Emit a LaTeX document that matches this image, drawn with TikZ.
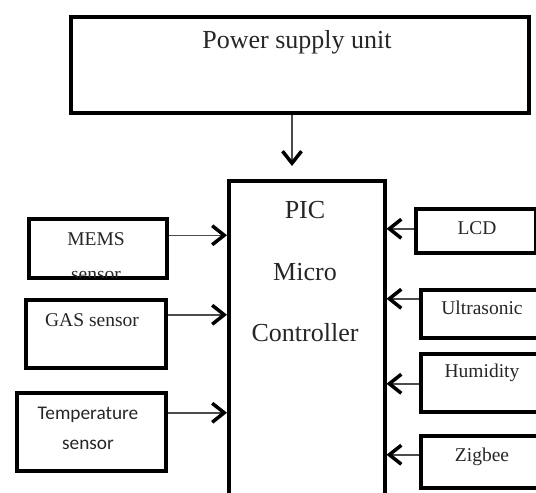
\documentclass[tikz,border=0pt]{standalone}
\usepackage{fontspec}
\setmainfont{Liberation Serif}
\newfontfamily\calibri{Carlito}
\usetikzlibrary{arrows.meta,positioning,calc}
\tikzset{>={Straight Barb[length=12pt,width=19pt,line width=3.5pt,color=black]}}
\tikzset{blk/.style={draw, line width=3.5pt, inner sep=0pt, anchor=north west}}
\tikzset{big/.style={font=\fontsize{26}{30}\selectfont, text=black!85}}
\tikzset{sml/.style={font=\fontsize{19.5}{24}\selectfont, text=black!85}}
\tikzset{arr/.style={->, line width=1.5pt, draw=black!70}}

\begin{document}
\begin{tikzpicture}[x=1pt,y=-1pt]
  \useasboundingbox (0,0) rectangle (536,493);
  % boxes
  \node[blk, minimum width=458pt, minimum height=96pt] (psu) at (69,15) {};
  \node[blk, minimum width=156pt, minimum height=315pt] (pic) at (227,179) {};
  \node[blk, minimum width=138pt, minimum height=59pt] (mems) at (27,217) {};
  \node[blk, minimum width=140pt, minimum height=68pt] (gas) at (24,298) {};
  \node[blk, minimum width=149pt, minimum height=78pt] (temp) at (15,391) {};
  \node[blk, minimum width=120pt, minimum height=44pt] (lcd) at (414,207) {};
  \node[blk, minimum width=130pt, minimum height=48pt] (ultra) at (419,288) {};
  \node[blk, minimum width=130pt, minimum height=58pt] (hum) at (419,352) {};
  \node[blk, minimum width=130pt, minimum height=52pt] (zig) at (419,434) {};
  % texts
  \node[big] (psut) at (297,42) {Power supply unit};
  \node[big] (pict1) at (305,210) {PIC};
  \node[big] (pict2) at (305,272) {Micro};
  \node[big] (pict3) at (305,333) {Controller};
  \node[sml] (memst) at (96,239) {MEMS};
  \begin{scope}
    \clip ([shift={(1.75pt,1.75pt)}]mems.south west) rectangle (mems.north east);
    \node[sml, anchor=base] (memst2) at (96,280) {sensor};
  \end{scope}
  \node[sml] (gast) at (92,320) {GAS sensor};
  \node[sml, font=\calibri\fontsize{19.3}{30}\selectfont, align=center] (tempt) at (88,428) {Temperature\\sensor};
  \node[sml] (lcdt) at (477,228) {LCD};
  \node[sml] (ultrat) at (482,308) {Ultrasonic};
  \node[sml] (humt) at (482,373) {Humidity};
  \node[sml] (zigt) at (482,457) {Zigbee};
  % arrows
  \coordinate (picin) at (292,166);
  \draw[arr] (psu.south -| picin) -- (picin);
  \draw[arr] ([yshift=13pt]mems.east) -- ([yshift=13pt]mems.east -| pic.west);
  \draw[arr] ([yshift=19pt]gas.east) -- ([yshift=19pt]gas.east -| pic.west);
  \draw[arr] ([yshift=19pt]temp.east) -- ([yshift=19pt]temp.east -| pic.west);
  \draw[arr] ([yshift=2pt]lcd.west) -- ([yshift=2pt]lcd.west -| pic.east);
  \draw[arr] ([yshift=15pt]ultra.west) -- ([yshift=15pt]ultra.west -| pic.east);
  \draw[arr] ([yshift=-1pt]hum.west) -- ([yshift=-1pt]hum.west -| pic.east);
  \draw[arr] ([yshift=7pt]zig.west) -- ([yshift=7pt]zig.west -| pic.east);
\end{tikzpicture}
\end{document}
